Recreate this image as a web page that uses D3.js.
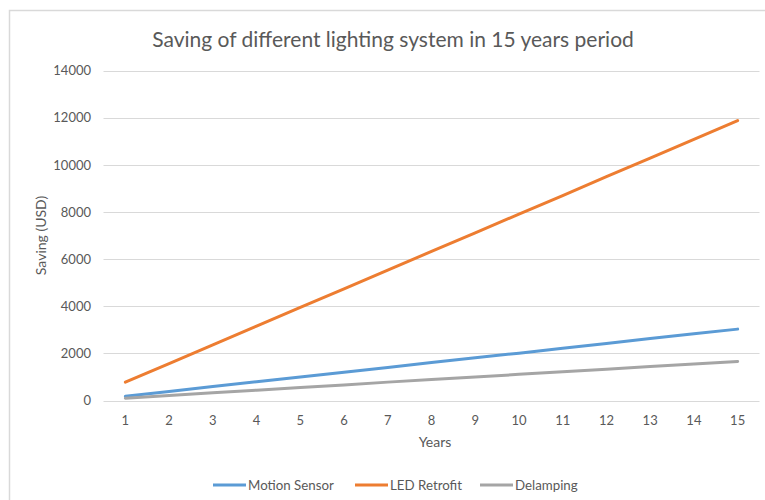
<!DOCTYPE html>
<html>
<head>
<meta charset="utf-8">
<script src="https://cdn.jsdelivr.net/npm/d3@7"></script>
<style>
  html, body { margin: 0; padding: 0; background: #fff; }
  svg { display: block; }
  text { font-family: Lato, "Open Sans", sans-serif; fill: #595959; }
</style>
</head>
<body>
<svg id="chart" width="765" height="500"></svg>
<script>
const title = "Saving of different lighting system in 15 years period";
const xLabel = "Years";
const yLabel = "Saving (USD)";
const years = [1, 2, 3, 4, 5, 6, 7, 8, 9, 10, 11, 12, 13, 14, 15];
const yTicks = [0, 2000, 4000, 6000, 8000, 10000, 12000, 14000];
const seriesNames = ["Motion Sensor", "LED Retrofit", "Delamping"];
const motionSensor = [180, 380, 590, 800, 1000, 1200, 1400, 1610, 1810, 2010, 2220, 2420, 2630, 2830, 3030];
const ledRetrofit = [780, 1570, 2360, 3160, 3950, 4740, 5530, 6330, 7120, 7910, 8700, 9500, 10290, 11080, 11880];
const delamping = [100, 210, 330, 440, 550, 660, 780, 890, 1000, 1110, 1220, 1330, 1440, 1550, 1660];
const colors = ["#5B9BD5", "#ED7D31", "#A5A5A5"];

const seriesValues = [motionSensor, ledRetrofit, delamping];
const series = seriesNames.map((name, i) => ({
  name, color: colors[i],
  values: years.map((yr, j) => ({ year: yr, value: seriesValues[i][j] }))
}));

const svg = d3.select("#chart");

// outer chart border
svg.append("rect")
  .attr("x", 9.5).attr("y", 10.5)
  .attr("width", 800).attr("height", 600)
  .attr("fill", "none").attr("stroke", "#d9d9d9").attr("stroke-width", 1.5);

const plotLeft = 103.5, plotRight = 759.5, plotTop = 70.7, plotBottom = 400.5;

const x = d3.scaleBand().domain(years).range([plotLeft, plotRight]);
const y = d3.scaleLinear().domain([0, 14000]).range([plotBottom, plotTop]);

// gridlines
svg.append("g")
  .selectAll("line").data(yTicks).join("line")
  .attr("x1", plotLeft).attr("x2", plotRight)
  .attr("y1", d => Math.round(y(d)) + 0.5).attr("y2", d => Math.round(y(d)) + 0.5)
  .attr("stroke", "#d9d9d9").attr("stroke-width", 1);

// y axis labels
const yAxis = d3.axisLeft(y).tickValues(yTicks).tickSize(0).tickPadding(0).tickFormat(d3.format("d"));
const gy = svg.append("g").attr("transform", `translate(91,0)`).call(yAxis);
gy.select(".domain").remove();
gy.selectAll("text").attr("font-size", 13).attr("fill", "#595959")
  .style("font-family", "Lato, 'Open Sans', sans-serif");

// x axis
const xAxis = d3.axisBottom(x).tickSize(0).tickPadding(0);
const gx = svg.append("g").attr("transform", `translate(0,${plotBottom})`).call(xAxis);
gx.select(".domain").remove();
gx.selectAll("text").attr("font-size", 13).attr("fill", "#595959").attr("dy", null).attr("y", 24)
  .style("font-family", "Lato, 'Open Sans', sans-serif");

// lines
const line = d3.line()
  .x(d => x(d.year) + x.bandwidth() / 2)
  .y(d => y(d.value));

svg.append("g").selectAll("path").data(series).join("path")
  .attr("d", d => line(d.values))
  .attr("fill", "none")
  .attr("stroke", d => d.color)
  .attr("stroke-width", 3)
  .attr("stroke-linecap", "round")
  .attr("stroke-linejoin", "round");

// title
svg.append("text")
  .attr("x", 393).attr("y", 47)
  .attr("text-anchor", "middle")
  .attr("font-size", 21)
  .style("font-weight", 400)
  .text(title);

// axis titles
svg.append("text")
  .attr("x", 435).attr("y", 447)
  .attr("text-anchor", "middle")
  .attr("font-size", 14)
  .text(xLabel);

svg.append("text")
  .attr("transform", `translate(46,235.5) rotate(-90)`)
  .attr("text-anchor", "middle")
  .attr("font-size", 14)
  .text(yLabel);

// legend
const legendItems = [
  { s: series[0], x: 213 },
  { s: series[1], x: 355 },
  { s: series[2], x: 480 }
];
const lg = svg.append("g").selectAll("g").data(legendItems).join("g")
  .attr("transform", d => `translate(${d.x},485)`);
lg.append("line")
  .attr("x1", 0).attr("x2", 33).attr("y1", 0).attr("y2", 0)
  .attr("stroke", d => d.s.color).attr("stroke-width", 3);
lg.append("text")
  .attr("x", 35).attr("y", 4.5)
  .attr("font-size", 13.3)
  .text(d => d.s.name);
</script>
</body>
</html>
